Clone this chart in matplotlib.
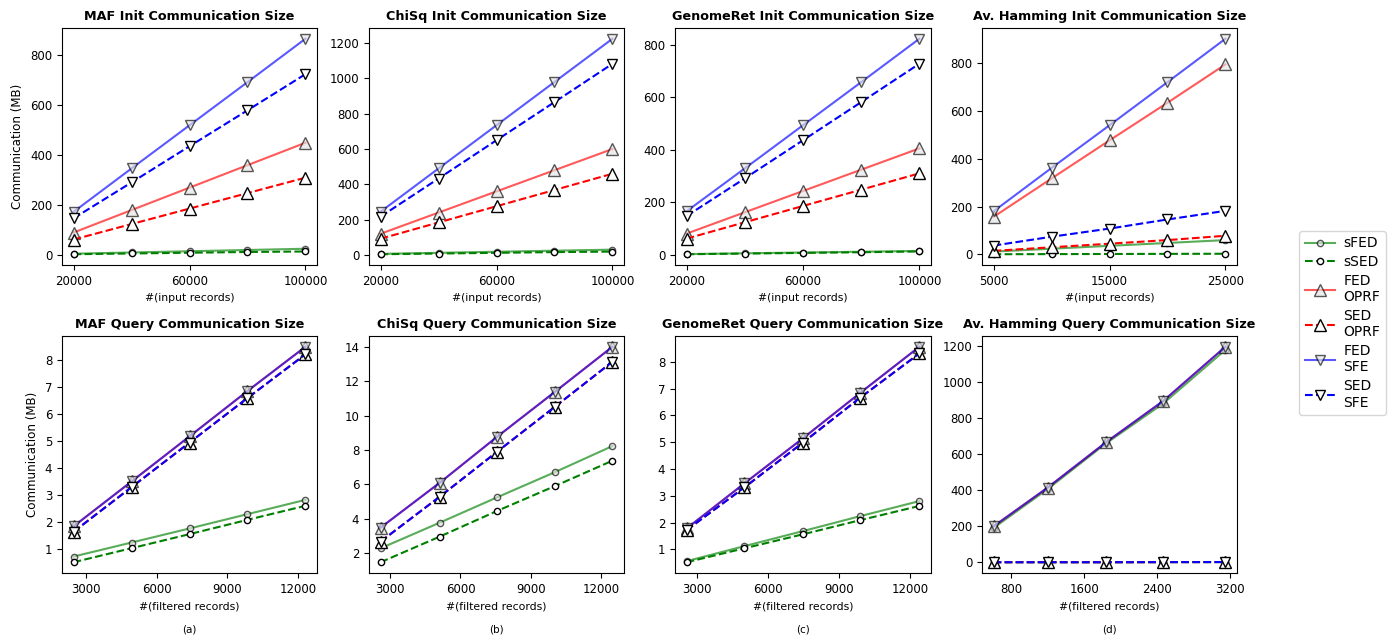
import numpy as np
import matplotlib.pyplot as plt

# x values
x_init = [20000, 40000, 60000, 80000, 100000]
x_ham_init = [5000, 10000, 15000, 20000, 25000]
x_maf_q = [2465, 4930, 7395, 9860, 12325]
x_chi_q = [2600, 5120, 7560, 10030, 12470]
x_gen_q = [2560, 5000, 7470, 9900, 12400]
x_ham_q = [607, 1200, 1836, 2465, 3145]

# y values per panel: sFED, sSED, FED OPRF, SED OPRF, FED SFE, SED SFE
maf_init = [[5, 10, 15, 20, 25], [3, 6, 9, 12, 14],
            [90, 180, 270, 360, 450], [62, 124, 186, 248, 310],
            [173, 347, 520, 693, 867], [147, 291, 436, 580, 725]]
chi_init = [[6, 12, 18, 24, 30], [4, 8, 12, 16, 19],
            [120, 240, 360, 480, 600], [92, 184, 276, 368, 460],
            [245, 490, 735, 980, 1225], [217, 433, 650, 866, 1083]]
gen_init = [[3, 6, 9, 12, 15], [2.5, 5, 7.5, 10, 13],
            [81, 162, 243, 324, 405], [62, 124, 186, 248, 310],
            [166, 329, 493, 657, 822], [148, 291, 436, 581, 727]]
ham_init = [[12, 24, 36, 48, 60], [1, 1.5, 2, 2.5, 3],
            [157, 317, 476, 633, 793], [15, 30, 45, 60, 78],
            [180, 361, 539, 719, 900], [37, 74, 108, 146, 182]]
maf_q = [[0.73, 1.25, 1.77, 2.30, 2.83], [0.52, 1.04, 1.56, 2.09, 2.61],
         [1.85, 3.51, 5.18, 6.86, 8.50], [1.65, 3.30, 4.95, 6.60, 8.22],
         [1.85, 3.51, 5.18, 6.86, 8.50], [1.65, 3.30, 4.95, 6.60, 8.22]]
chi_q = [[2.29, 3.78, 5.25, 6.72, 8.23], [1.48, 2.97, 4.46, 5.91, 7.38],
         [3.49, 6.10, 8.77, 11.39, 14.0], [2.68, 5.29, 7.90, 10.52, 13.13],
         [3.49, 6.10, 8.77, 11.39, 14.0], [2.68, 5.29, 7.90, 10.52, 13.13]]
gen_q = [[0.56, 1.12, 1.68, 2.24, 2.80], [0.52, 1.04, 1.56, 2.09, 2.62],
         [1.78, 3.46, 5.14, 6.84, 8.56], [1.72, 3.31, 4.98, 6.66, 8.31],
         [1.78, 3.46, 5.14, 6.84, 8.56], [1.72, 3.31, 4.98, 6.66, 8.31]]
ham_q = [[191, 407, 659, 881, 1178], [1, 1, 1, 1.5, 2],
         [200, 415, 665, 895, 1195], [1, 1, 1, 1.5, 2],
         [200, 415, 665, 895, 1195], [1, 1, 1, 1.5, 2]]

labels = ['sFED', 'sSED', 'FED\nOPRF', 'SED\nOPRF', 'FED\nSFE', 'SED\nSFE']
colors = ['green', 'green', 'red', 'red', 'blue', 'blue']
markers = ['o', 'o', '^', '^', 'v', 'v']
msizes = [4.5, 4.5, 9, 9, 6.5, 6.5]

panels = [
    ('MAF Init Communication Size', x_init, maf_init, [20000, 60000, 100000], '#(input records)'),
    ('ChiSq Init Communication Size', x_init, chi_init, [20000, 60000, 100000], '#(input records)'),
    ('GenomeRet Init Communication Size', x_init, gen_init, [20000, 60000, 100000], '#(input records)'),
    ('Av. Hamming Init Communication Size', x_ham_init, ham_init, [5000, 15000, 25000], '#(input records)'),
    ('MAF Query Communication Size', x_maf_q, maf_q, [3000, 6000, 9000, 12000], '#(filtered records)'),
    ('ChiSq Query Communication Size', x_chi_q, chi_q, [3000, 6000, 9000, 12000], '#(filtered records)'),
    ('GenomeRet Query Communication Size', x_gen_q, gen_q, [3000, 6000, 9000, 12000], '#(filtered records)'),
    ('Av. Hamming Query Communication Size', x_ham_q, ham_q, [800, 1600, 2400, 3200], '#(filtered records)'),
]

W, H = 1397, 642
fig = plt.figure(figsize=(W / 100, H / 100), dpi=100)

lefts = [62, 369, 675, 982]
widths = [255, 255, 256, 255]
tops = [28, 336]
bottoms = [265, 573]

for k, (title, xs, ys, xt, xl) in enumerate(panels):
    r, c = divmod(k, 4)
    ax = fig.add_axes([lefts[c] / W, 1 - bottoms[r] / H, widths[c] / W, (bottoms[r] - tops[r]) / H])
    handles = []
    for i in range(6):
        solid = (i % 2 == 0)
        h, = ax.plot(xs, ys[i], color=colors[i], marker=markers[i], markersize=msizes[i],
                     linestyle='-' if solid else '--', linewidth=1.5,
                     markerfacecolor='#e4e4e4' if solid else 'white',
                     markeredgecolor='black', markeredgewidth=1.0,
                     alpha=0.65 if solid else 1.0, label=labels[i])
        handles.append(h)
    ax.set_title(title, fontsize=9.2, fontweight='bold')
    ax.set_xticks(xt)
    ax.tick_params(labelsize=8.5)
    ax.set_xlabel(xl, fontsize=7.8)
    if c == 0:
        ax.set_ylabel('Communication (MB)', fontsize=8.6)
    if r == 1:
        cx = (lefts[c] + widths[c] / 2) / W
        fig.text(cx, 1 - 630 / H, '(%s)' % 'abcd'[c], ha='center', va='center', fontsize=7.5)

fig.legend(handles=handles, loc='center left', bbox_to_anchor=(1292 / W, 1 - 323 / H),
           fontsize=10, handlelength=2.2, labelspacing=0.35, borderpad=0.4, handletextpad=0.6)

fig.savefig('out.png', dpi=100)
